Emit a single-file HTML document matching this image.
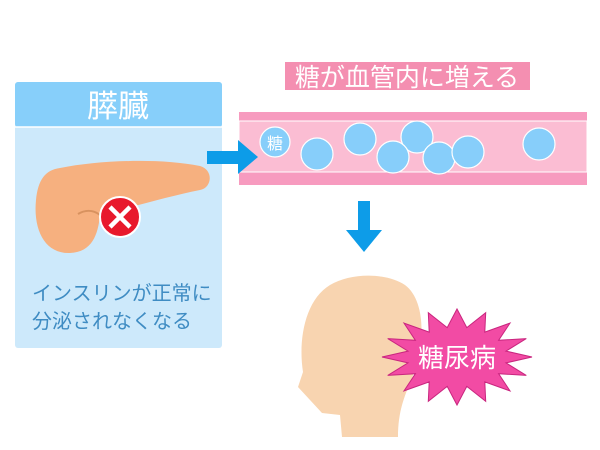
<!DOCTYPE html>
<html><head><meta charset="utf-8"><style>
body{margin:0;width:600px;height:450px;background:#fff;overflow:hidden;font-family:"Liberation Sans","Noto Sans CJK JP",sans-serif}
</style></head><body>
<svg width="600" height="450" xmlns="http://www.w3.org/2000/svg" style="position:absolute;left:0;top:0">
<rect x="15" y="82" width="207" height="266" rx="3" fill="#cde9fb"/>
<rect x="15" y="82" width="207" height="45" rx="3" fill="#87cffa"/>
<line x1="15" y1="127" x2="222" y2="127" stroke="#fff" stroke-width="1.5"/>
<text x="118" y="117" font-size="31" fill="#fff" text-anchor="middle" font-family="Liberation Sans,Noto Sans CJK JP,sans-serif">膵臓</text>
<path d="M60 168 C100 160 160 158 200 166 C214 170 212 188 200 190 C170 196 140 205 100 215 C98 235 92 252 70 253 C45 254 33 230 36 200 C38 180 45 170 60 168 Z" fill="#f6b07f"/>
<path d="M78 214 C88 208 96 212 100 215" stroke="#d8925f" stroke-width="2" fill="none"/>
<circle cx="120" cy="217" r="20" fill="#e8192c" stroke="#fff" stroke-width="2"/>
<path d="M110 207 L130 227 M130 207 L110 227" stroke="#fff" stroke-width="4.5"/>
<text x="32" y="300" font-size="20" fill="#3f8cc3" font-family="Liberation Sans,Noto Sans CJK JP,sans-serif">インスリンが正常に</text>
<text x="32" y="328" font-size="20" fill="#3f8cc3" font-family="Liberation Sans,Noto Sans CJK JP,sans-serif">分泌されなくなる</text>
<rect x="239" y="112" width="348" height="73" fill="#f79bbf"/>
<rect x="239" y="121" width="348" height="51" fill="#fbbdd3" stroke="#fff" stroke-width="1"/>
<rect x="207" y="151" width="34" height="13" fill="#0d9ce8"/>
<polygon points="238,140 258,157 238,174" fill="#0d9ce8"/>
<rect x="285" y="62" width="245" height="28" fill="#f48fb1"/>
<text x="407" y="86" font-size="25" fill="#fff" text-anchor="middle" font-family="Liberation Sans,Noto Sans CJK JP,sans-serif">糖が血管内に増える</text>
<g fill="#87cefa" stroke="#fff" stroke-width="1.2">
<circle cx="275" cy="142" r="15"/>
<circle cx="317" cy="154" r="16"/>
<circle cx="360" cy="139" r="16"/>
<circle cx="417" cy="137" r="16"/>
<circle cx="393" cy="157" r="16"/>
<circle cx="439" cy="158" r="16"/>
<circle cx="468" cy="152" r="16"/>
<circle cx="539" cy="144" r="16"/>
</g>
<text x="275" y="149" font-size="16" fill="#fff" text-anchor="middle" font-family="Liberation Sans,Noto Sans CJK JP,sans-serif">糖</text>
<rect x="358" y="201" width="12" height="30" fill="#0d9ce8"/>
<polygon points="346,230 382,230 364,252" fill="#0d9ce8"/>
<path d="M342 437 L340 415 L322 413 L298 387 L303 372 C298 340 305 300 330 285 C350 273 385 272 405 285 C425 300 425 340 415 370 C408 390 398 405 398 437 Z" fill="#f8d4b0"/>
<polygon id="st" fill="#f24ba4" stroke="#c9267f" stroke-width="1" points=""/>
<text x="457" y="367" font-size="26" fill="#fff" text-anchor="middle" font-family="Liberation Sans,Noto Sans CJK JP,sans-serif">糖尿病</text>
</svg>
<script>
var p=[],n=16,cx=457,cy=357;
for(var i=0;i<2*n;i++){var a=Math.PI*i/n;var o=i%2==0;var rx=o?75:50,ry=o?48:30;p.push((cx+rx*Math.cos(a)).toFixed(1)+","+(cy+ry*Math.sin(a)).toFixed(1));}
document.getElementById('st').setAttribute('points',p.join(' '));
</script>
</body></html>
